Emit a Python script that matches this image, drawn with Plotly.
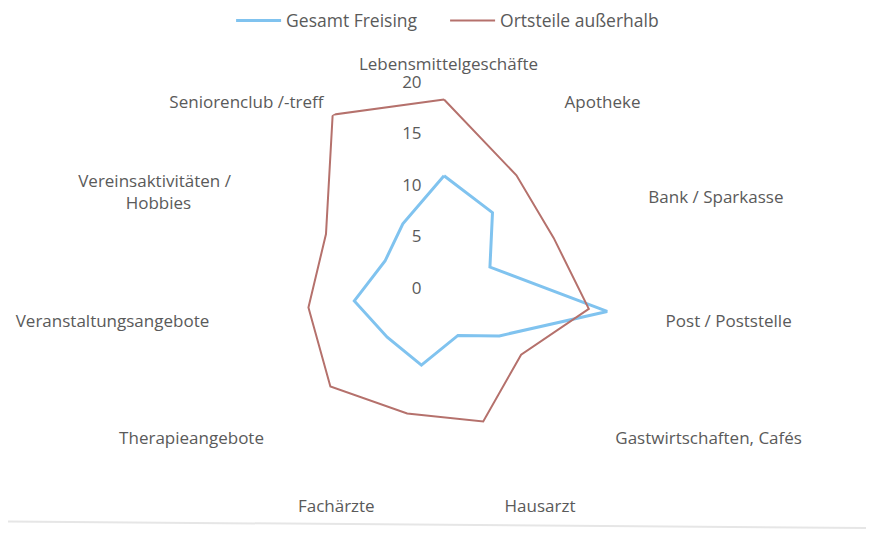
import plotly.graph_objects as go

categories = [
    "Lebensmittelgeschäfte",
    "Apotheke",
    "Bank / Sparkasse",
    "Post / Poststelle",
    "Gastwirtschaften, Cafés",
    "Hausarzt",
    "Fachärzte",
    "Therapieangebote",
    "Veranstaltungsangebote",
    "Vereinsaktivitäten / Hobbies",
    "Seniorenclub /-treff",
]

gesamt_freising = [10.9, 8.7, 4.9, 16.0, 7.1, 4.8, 7.8, 7.3, 8.8, 6.3, 7.4]
ortsteile_ausserhalb = [18.3, 13.0, 11.7, 14.2, 9.9, 13.5, 12.7, 14.6, 13.3, 12.6, 20.0]

radial_ticks = [0, 5, 10, 15, 20]

text_color = "#5a5a5a"
font_family = "Open Sans, Liberation Sans, sans-serif"

# non-breaking spaces nudge the category labels away from the plot,
# the original chart puts them a bit further out at the sides
NB = "\u00a0"
tick_labels = [
    NB * 2 + "Lebensmittelgeschäfte",
    NB * 1 + "Apotheke",
    NB * 2 + "Bank / Sparkasse",
    NB * 2 + "Post / Poststelle",
    NB * 2 + "Gastwirtschaften, Cafés",
    "Hausarzt",
    "Fachärzte" + NB * 2,
    "Therapieangebote" + NB * 4,
    "Veranstaltungsangebote" + NB * 5,
    "Vereinsaktivitäten /" + NB * 4 + "<br>Hobbies" + NB * 13,
    "Seniorenclub /-treff" + NB * 1,
]


def closed(values):
    # radar polygon: repeat the first point to close the shape
    return list(values) + [values[0]]


fig = go.Figure()

fig.add_trace(go.Scatterpolar(
    r=closed(gesamt_freising),
    theta=closed(categories),
    mode="lines",
    name="Gesamt Freising",
    line=dict(color="#80c3ef", width=3),
))

fig.add_trace(go.Scatterpolar(
    r=closed(ortsteile_ausserhalb),
    theta=closed(categories),
    mode="lines",
    name="Ortsteile außerhalb",
    line=dict(color="#b5716c", width=2),
))

# the page body adds 8px margin, so positions are shifted up/left by 8px
fig.update_layout(
    width=874,
    height=540,
    margin=dict(l=0, r=0, t=0, b=0, autoexpand=False),
    paper_bgcolor="white",
    plot_bgcolor="white",
    font=dict(family=font_family, size=17, color=text_color),
    showlegend=True,
    legend=dict(
        orientation="h",
        x=0.5001,
        xanchor="center",
        y=1.01,
        yanchor="top",
        font=dict(size=17.5, color=text_color),
        itemwidth=45,
        entrywidth=154,
    ),
    polar=dict(
        domain=dict(x=[0.2632, 0.7346], y=[0.100, 0.863]),
        bgcolor="white",
        radialaxis=dict(
            range=[0, 20],
            tickvals=radial_ticks,
            angle=90,
            side="counterclockwise",
            tickangle=90,
            showgrid=False,
            showline=False,
            ticks="outside",
            ticklen=16,
            tickcolor="rgba(0,0,0,0)",
            tickfont=dict(size=17, color=text_color),
        ),
        angularaxis=dict(
            rotation=90,
            direction="clockwise",
            tickmode="array",
            tickvals=categories,
            ticktext=tick_labels,
            showgrid=False,
            showline=False,
            ticks="outside",
            ticklen=5,
            tickcolor="rgba(0,0,0,0)",
            tickfont=dict(size=17, color=text_color),
        ),
    ),
    shapes=[
        # faint page edge visible at the bottom of the scan
        dict(type="line", xref="paper", yref="paper",
             x0=0.0, y0=0.049, x1=1.0, y1=0.037,
             line=dict(color="#e6e6e6", width=2)),
    ],
)

fig.write_html("out.html")
